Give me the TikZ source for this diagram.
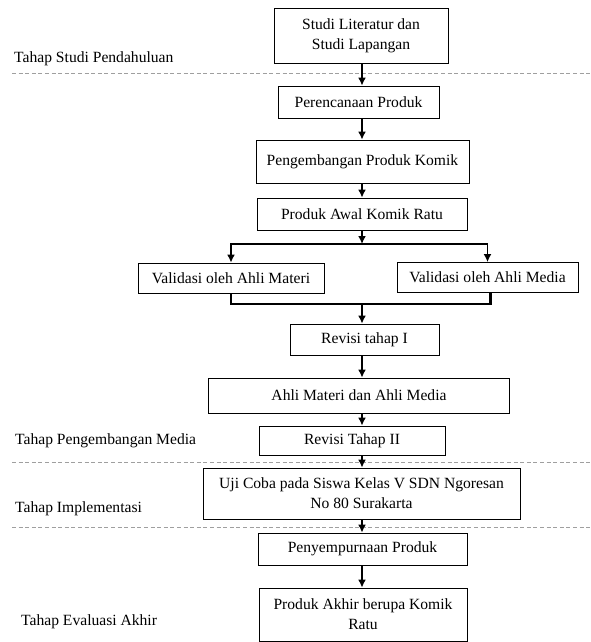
\documentclass[tikz,border=0pt]{standalone}
\usepackage{fontspec}
\setmainfont{Liberation Serif}
\usetikzlibrary{arrows.meta}

\tikzset{
  kotak/.style={draw, line width=0.8pt, inner sep=0pt, align=center, font=\fontsize{15.6}{20}\selectfont},
  panah/.style={line width=1.9pt, -{Latex[length=8pt,width=8pt]}},
  gabungan/.style={line width=2.6pt},
  batas/.style={gray!75, line width=0.9pt, dash pattern=on 4pt off 2.6pt},
  tahap/.style={anchor=west, inner sep=0pt, font=\fontsize{15.6}{20}\selectfont}
}

\begin{document}
\begin{tikzpicture}[x=1pt,y=1pt,yscale=-1,xscale=1]
    \useasboundingbox (0,0) rectangle (590,642);
    \coordinate (sumbu) at (362,0);

    %Straight Lines: batas tahap
    \draw[batas] (12,73) -- (590,73);
    \draw[batas] (12,462) -- (590,462);
    \draw[batas] (12,527) -- (590,527);

    %Shape: Rectangle
    \node[kotak, minimum width=174pt, minimum height=55pt] (studi) at (361,35.5) {Studi Literatur dan\\Studi Lapangan};
    %Shape: Rectangle
    \node[kotak, minimum width=161pt, minimum height=32pt] (rencana) at (358.5,102) {Perencanaan Produk};
    %Shape: Rectangle
    \node[kotak, minimum width=213pt, minimum height=43pt] (kembang) at (362.5,161.5) {Pengembangan Produk Komik};
    %Shape: Rectangle
    \node[kotak, minimum width=210pt, minimum height=32pt] (awal) at (362,214) {Produk Awal Komik Ratu};
    %Shape: Rectangle
    \node[kotak, minimum width=186pt, minimum height=30pt] (valmateri) at (231,278) {Validasi oleh Ahli Materi};
    %Shape: Rectangle
    \node[kotak, minimum width=181pt, minimum height=30pt] (valmedia) at (487.5,277.5) {Validasi oleh Ahli Media};
    %Shape: Rectangle
    \node[kotak, minimum width=149pt, minimum height=31pt] (revisi1) at (364.5,339.5) {Revisi tahap I};
    %Shape: Rectangle
    \node[kotak, minimum width=301pt, minimum height=35pt] (ahli) at (359,395.5) {Ahli Materi dan Ahli Media};
    %Shape: Rectangle
    \node[kotak, minimum width=186pt, minimum height=29pt] (revisi2) at (352,440.5) {Revisi Tahap II};
    %Shape: Rectangle
    \node[kotak, minimum width=317pt, minimum height=51pt] (ujicoba) at (361.5,493.5) {Uji Coba pada Siswa Kelas V SDN Ngoresan\\No 80 Surakarta};
    %Shape: Rectangle
    \node[kotak, minimum width=209pt, minimum height=32pt] (sempurna) at (362.5,549) {Penyempurnaan Produk};
    %Shape: Rectangle
    \node[kotak, minimum width=208pt, minimum height=53pt] (akhir) at (363,614.5) {Produk Akhir berupa Komik\\Ratu};

    %Straight Lines: panah
    \draw[panah] (studi.south -| sumbu) -- (rencana.north -| sumbu);
    \draw[panah] (rencana.south -| sumbu) -- (kembang.north -| sumbu);
    \draw[panah] (kembang.south -| sumbu) -- (awal.north -| sumbu);

    %Straight Lines: cabang validasi
    \coordinate (cabang) at (362,244);
    \draw[panah] (awal.south -| sumbu) -- (cabang);
    \draw[panah] (cabang) -| (valmateri.north);
    \draw[panah] (cabang) -| (valmedia.north);

    %Straight Lines: gabung validasi
    \coordinate (gabung) at (362,304);
    \draw[gabungan] (valmateri.south) |- (gabung);
    \draw[gabungan] ([xshift=3pt]valmedia.south) |- (gabung);
    \draw[panah] (gabung) -- (revisi1.north -| sumbu);

    \draw[panah] (revisi1.south -| sumbu) -- (ahli.north -| sumbu);
    \draw[panah] (ahli.south -| sumbu) -- (revisi2.north -| sumbu);
    \draw[panah] (revisi2.south -| sumbu) -- (ujicoba.north -| sumbu);
    \draw[panah] (ujicoba.south -| sumbu) -- (sempurna.north -| sumbu);
    \draw[panah] (sempurna.south -| sumbu) -- (akhir.north -| sumbu);

    % Text Node
    \node[tahap] (t1) at (14,59) {Tahap Studi Pendahuluan};
    % Text Node
    \node[tahap] (t2) at (15,441) {Tahap Pengembangan Media};
    % Text Node
    \node[tahap] (t3) at (15,509) {Tahap Implementasi};
    % Text Node
    \node[tahap] (t4) at (21,622) {Tahap Evaluasi Akhir};

\end{tikzpicture}
\end{document}
